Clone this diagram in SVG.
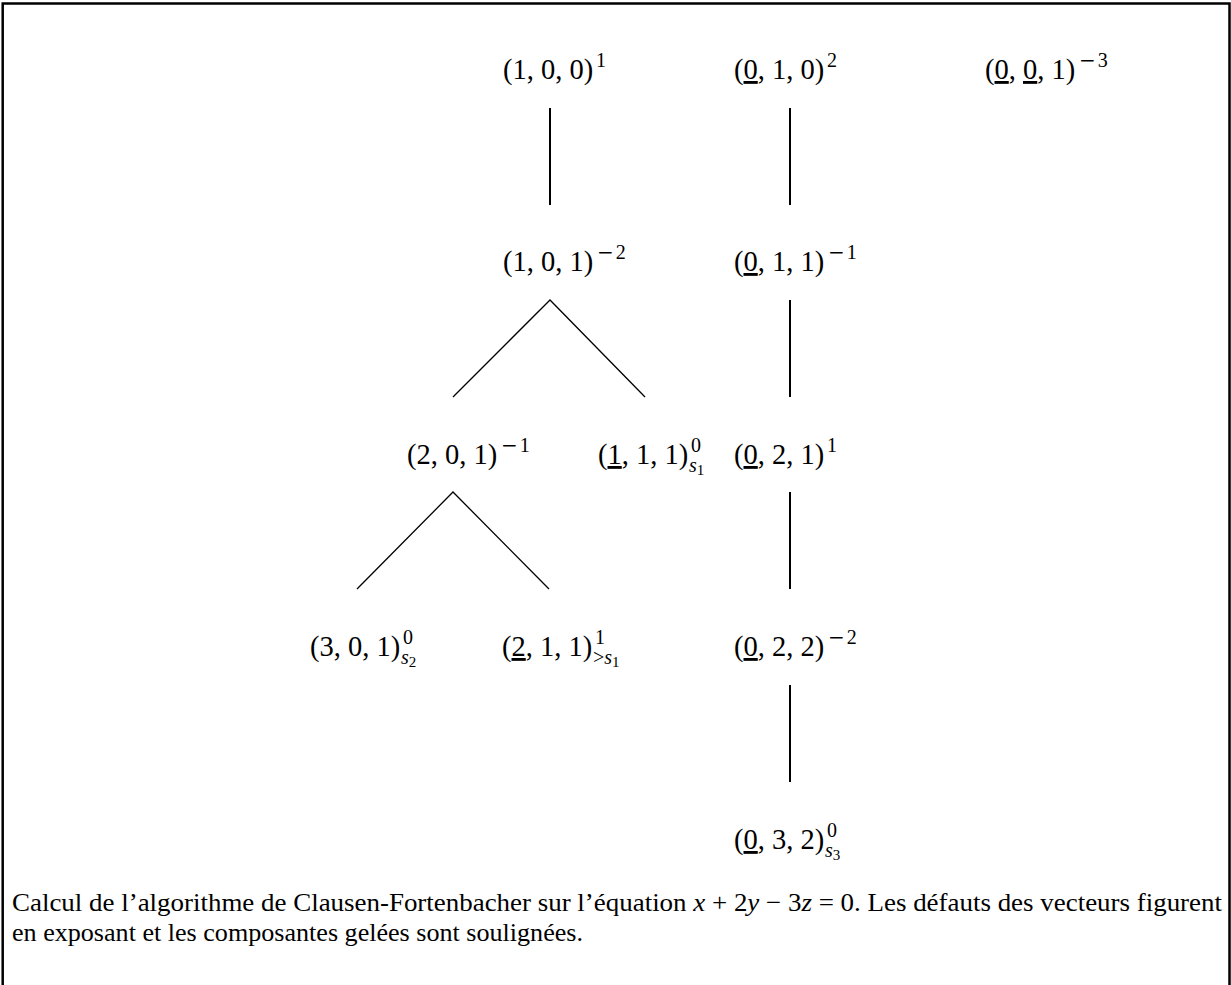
<svg xmlns="http://www.w3.org/2000/svg" width="1231" height="985" viewBox="0 0 1231 985">
<style>
.m{font-family:"Liberation Serif","DejaVu Serif",serif;font-size:28.5px;fill:#000}
.p{font-family:"Liberation Serif","DejaVu Serif",serif;font-size:20px;fill:#000}
.b{font-size:15px}
.mi{font-family:"DejaVu Sans",sans-serif;font-size:20px}
.i{font-style:italic}
.u{text-decoration:underline}
.c{font-family:"Liberation Serif","DejaVu Serif",serif;font-size:26px;fill:#000}
.v{stroke:#000;stroke-width:2;fill:none}
.d{stroke:#000;stroke-width:1.3;fill:none}
</style>
<rect width="1231" height="985" fill="#fff"/>
<path d="M2.7,985 V3.5 H1229.5 V985" fill="none" stroke="#000" stroke-width="2.5"/>
<g id="n100"><text class="m" x="503" y="79">(1, 0, 0)</text><text class="p" x="596" y="67">1</text></g>
<g id="n010"><text class="m" x="734" y="79">(<tspan class="u">0</tspan>, 1, 0)</text><text class="p" x="827" y="67">2</text></g>
<g id="n001"><text class="m" x="985" y="79">(<tspan class="u">0</tspan>, <tspan class="u">0</tspan>, 1)</text><text class="p" x="1079" y="67"><tspan class="mi">−</tspan><tspan dx="2">3</tspan></text></g>
<g id="n101"><text class="m" x="503" y="271">(1, 0, 1)</text><text class="p" x="597" y="259"><tspan class="mi">−</tspan><tspan dx="2">2</tspan></text></g>
<g id="n011"><text class="m" x="734" y="271">(<tspan class="u">0</tspan>, 1, 1)</text><text class="p" x="828" y="259"><tspan class="mi">−</tspan><tspan dx="2">1</tspan></text></g>
<g id="n201"><text class="m" x="407" y="464">(2, 0, 1)</text><text class="p" x="501" y="452"><tspan class="mi">−</tspan><tspan dx="2">1</tspan></text></g>
<g id="n111"><text class="m" x="598" y="464">(<tspan class="u">1</tspan>, 1, 1)</text><text class="p" x="691" y="452">0</text><text class="p" x="689" y="472"><tspan class="i">s</tspan><tspan class="b" dy="3">1</tspan></text></g>
<g id="n021"><text class="m" x="734" y="464">(<tspan class="u">0</tspan>, 2, 1)</text><text class="p" x="827" y="452">1</text></g>
<g id="n301"><text class="m" x="310" y="656">(3, 0, 1)</text><text class="p" x="403" y="644">0</text><text class="p" x="401" y="664"><tspan class="i">s</tspan><tspan class="b" dy="3">2</tspan></text></g>
<g id="n211"><text class="m" x="502" y="656">(<tspan class="u">2</tspan>, 1, 1)</text><text class="p" x="595" y="644">1</text><text class="p" x="593" y="664">&gt;<tspan class="i">s</tspan><tspan class="b" dy="3">1</tspan></text></g>
<g id="n022"><text class="m" x="734" y="656">(<tspan class="u">0</tspan>, 2, 2)</text><text class="p" x="828" y="644"><tspan class="mi">−</tspan><tspan dx="2">2</tspan></text></g>
<g id="n032"><text class="m" x="734" y="849">(<tspan class="u">0</tspan>, 3, 2)</text><text class="p" x="827" y="837">0</text><text class="p" x="825" y="857"><tspan class="i">s</tspan><tspan class="b" dy="3">3</tspan></text></g>
<g id="connectors">
<line class="v" x1="550" y1="108" x2="550" y2="205"/>
<line class="v" x1="790" y1="108" x2="790" y2="205"/>
<line class="v" x1="790" y1="300" x2="790" y2="397"/>
<line class="v" x1="790" y1="492" x2="790" y2="589"/>
<line class="v" x1="790" y1="685" x2="790" y2="782"/>
<polyline class="d" points="453,397 550,300 645,397"/>
<polyline class="d" points="357,589 453,492 549,589"/>
</g>
<g id="caption">
<text class="c" x="12" y="911" textLength="1210" lengthAdjust="spacingAndGlyphs">Calcul de l’algorithme de Clausen-Fortenbacher sur l’équation <tspan class="i">x</tspan> + 2<tspan class="i">y</tspan> − 3<tspan class="i">z</tspan> = 0. Les défauts des vecteurs figurent</text>
<text class="c" x="12" y="941" textLength="571" lengthAdjust="spacingAndGlyphs">en exposant et les composantes gelées sont soulignées.</text>
</g>
</svg>
